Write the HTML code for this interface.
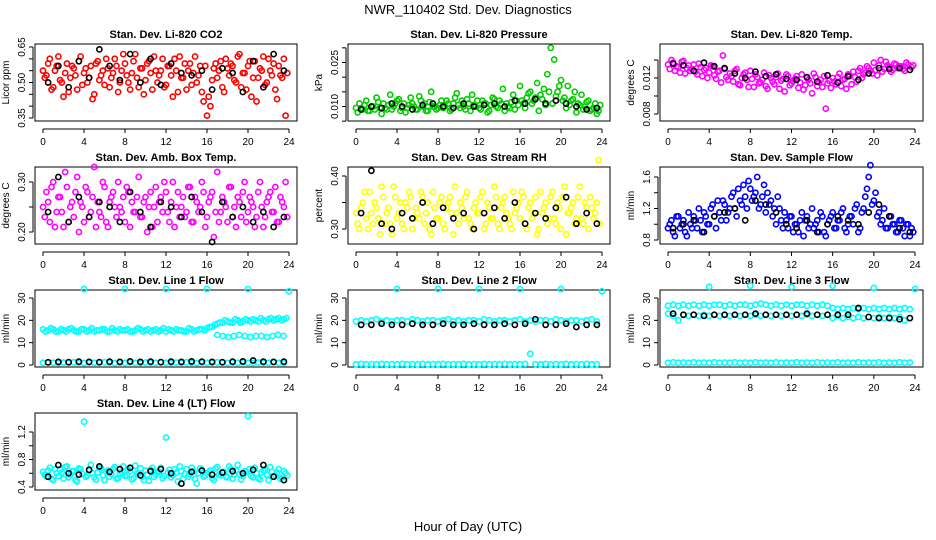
<!DOCTYPE html>
<html><head><meta charset="utf-8">
<style>
html,body{margin:0;padding:0;background:#fff;}
svg{display:block;font-family:"Liberation Sans",sans-serif;}
</style></head>
<body>
<svg id="c" width="936" height="540" viewBox="0 0 936 540" xmlns="http://www.w3.org/2000/svg">
<rect width="936" height="540" fill="#fff"/>
<text x="468" y="14" text-anchor="middle" font-size="13">NWR_110402  Std. Dev. Diagnostics</text>
<text x="468" y="531" text-anchor="middle" font-size="13">Hour of Day (UTC)</text>
</svg>
<script>
const xTicks=[0,4,8,12,16,20,24];
const co2Vals=[.55,.53,.60,.48,.57,.51,.44,.58,.52,.56,.47,.61,.54,.50,.57,.45,.59,.53,.49,.56,.52,.60,.46,.55,.58,.50,.54,.62,.48,.56,.51,.59,.47,.55,.53,.60,.49,.57,.44,.55,.61,.52,.47,.58,.54,.50,.57,.42,.36,.40,.56,.52,.59,.46,.56,.58,.51,.61,.48,.54,.57,.44,.59,.52,.55,.49,.60,.53,.47,.57,.52,.36];
const co2Vals2=[.52,.58,.47,.55,.61,.50,.54,.46,.57,.53,.59,.49,.56,.52,.43,.58,.51,.55,.60,.48,.54,.57,.50,.62,.53,.47,.59,.52,.56,.45,.58,.54,.61,.50,.55,.48,.57,.53,.60,.46,.52,.58,.55,.49,.61,.53,.46,.57,.44,.51,.58,.55,.48,.60,.53,.57,.50,.62,.54,.47,.59,.52,.42,.56,.61,.50,.55,.58,.43,.53,.60,.54];
const co2Black=[.50,.57,.48,.59,.52,.64,.57,.51,.62,.50,.60,.49,.58,.54,.53,.55,.47,.56,.54,.46,.59,.48,.62,.55];
const presVals=[.0095,.011,.009,.012,.0085,.010,.013,.0095,.011,.009,.014,.010,.012,.0085,.011,.0095,.013,.010,.009,.012,.011,.0085,.015,.010,.0095,.012,.010,.011,.009,.013,.0105,.012,.009,.011,.014,.010,.0095,.012,.011,.0085,.013,.010,.012,.016,.011,.0095,.014,.012,.017,.011,.013,.015,.012,.018,.014,.016,.021,.030,.026,.015,.019,.013,.017,.012,.015,.011,.014,.010,.012,.009,.011,.0085];
const presVals2=[.008,.0095,.0105,.0085,.010,.009,.0115,.0075,.0095,.0105,.009,.011,.0125,.0095,.008,.0105,.011,.009,.0135,.010,.0085,.0115,.010,.009,.0105,.0095,.012,.0085,.011,.0145,.0095,.010,.0125,.0085,.0105,.012,.009,.011,.008,.0105,.0125,.0095,.011,.0085,.010,.0115,.009,.0105,.012,.0095,.0145,.011,.013,.0085,.0125,.0105,.015,.011,.0135,.017,.012,.0095,.0105,.0125,.008,.0105,.009,.0115,.0085,.0095,.0075,.0105];
const presBlack=[.009,.010,.0095,.011,.010,.009,.0105,.011,.010,.0095,.011,.010,.0105,.011,.010,.012,.011,.0125,.011,.012,.011,.010,.009,.0095];
const tempVals=[.0135,.0140,.0128,.0132,.0138,.0125,.0134,.0130,.0127,.0136,.0122,.0131,.0126,.0133,.0119,.0128,.0145,.0121,.0125,.0116,.0130,.0112,.0124,.0118,.0128,.0110,.0121,.0115,.0126,.0108,.0120,.0113,.0125,.0117,.0105,.0122,.0114,.0119,.0109,.0124,.0112,.0118,.0103,.0121,.0115,.0110,.0086,.0117,.0120,.0113,.0125,.0118,.0108,.0122,.0127,.0116,.0131,.0124,.0133,.0128,.0137,.0123,.0140,.0130,.0134,.0127,.0136,.0131,.0133,.0128,.0135,.0132];
const tempVals2=[.0130,.0137,.0133,.0126,.0139,.0131,.0128,.0135,.0124,.0132,.0129,.0120,.0134,.0123,.0127,.0115,.0130,.0118,.0122,.0128,.0113,.0120,.0126,.0110,.0119,.0124,.0114,.0118,.0111,.0123,.0116,.0121,.0108,.0119,.0124,.0112,.0117,.0122,.0115,.0107,.0120,.0114,.0125,.0111,.0118,.0122,.0114,.0109,.0116,.0121,.0111,.0119,.0124,.0113,.0121,.0128,.0120,.0126,.0131,.0125,.0129,.0134,.0127,.0138,.0132,.0129,.0135,.0133,.0130,.0137,.0129,.0134];
const tempBlack=[.0136,.0134,.0128,.0137,.0133,.0131,.0125,.0120,.0127,.0122,.0124,.0119,.0118,.0121,.0116,.0123,.0115,.0122,.0118,.0125,.0131,.0130,.0131,.0129];
const boxVals=[.25,.28,.22,.30,.24,.27,.21,.29,.25,.23,.31,.26,.22,.28,.24,.33,.26,.23,.29,.21,.27,.25,.30,.24,.22,.28,.26,.24,.31,.23,.27,.25,.21,.29,.26,.24,.28,.22,.30,.25,.23,.27,.24,.29,.22,.26,.25,.28,.23,.27,.19,.32,.24,.26,.22,.29,.25,.27,.23,.30,.24,.26,.21,.28,.25,.23,.27,.24,.29,.22,.26,.30];
const boxVals2=[.23,.26,.29,.21,.27,.24,.32,.22,.26,.28,.20,.25,.29,.23,.27,.21,.24,.30,.22,.26,.28,.23,.25,.27,.29,.21,.24,.27,.23,.26,.20,.28,.25,.22,.27,.30,.24,.26,.21,.28,.25,.23,.29,.22,.27,.24,.30,.21,.26,.28,.24,.22,.27,.25,.29,.23,.21,.26,.28,.22,.27,.25,.23,.30,.21,.26,.28,.24,.22,.27,.25,.23];
const boxBlack=[.24,.31,.22,.27,.23,.26,.25,.22,.28,.24,.21,.26,.25,.23,.27,.24,.18,.26,.23,.25,.22,.24,.21,.23];
const rhVals=[.33,.30,.35,.32,.37,.31,.34,.29,.36,.33,.31,.38,.32,.35,.30,.34,.36,.32,.33,.37,.31,.35,.29,.34,.32,.36,.30,.35,.33,.38,.31,.34,.36,.32,.30,.35,.33,.37,.31,.34,.32,.36,.30,.35,.33,.31,.37,.34,.32,.36,.30,.35,.33,.29,.37,.34,.31,.36,.32,.35,.30,.38,.33,.34,.31,.36,.32,.35,.30,.34,.33,.43];
const rhVals2=[.31,.34,.37,.30,.33,.35,.32,.38,.31,.34,.29,.36,.33,.31,.35,.37,.30,.34,.32,.36,.33,.30,.37,.32,.35,.31,.34,.36,.29,.33,.35,.32,.37,.31,.34,.33,.36,.30,.35,.32,.38,.31,.34,.36,.32,.30,.33,.35,.37,.31,.34,.32,.36,.30,.33,.35,.32,.37,.31,.34,.36,.29,.33,.35,.32,.38,.31,.34,.36,.32,.35,.31];
const rhBlack=[.33,.41,.31,.30,.33,.32,.35,.31,.34,.32,.33,.30,.33,.34,.32,.35,.31,.33,.32,.34,.36,.31,.33,.31];
const sfVals=[.95,1.05,.85,1.10,1.00,.90,1.15,.95,1.05,1.20,.90,1.10,1.00,1.25,.95,1.15,1.30,1.05,1.20,1.40,1.10,1.30,1.50,1.20,1.45,1.35,1.60,1.25,1.50,1.40,1.30,1.20,1.35,1.05,1.15,.95,1.10,1.00,.90,1.15,1.05,.95,1.20,1.00,.90,1.10,.85,1.05,1.15,.95,1.05,1.20,.90,1.10,1.00,1.25,.95,1.20,1.45,1.75,1.30,1.10,1.00,1.20,.95,1.10,1.00,.90,1.05,.85,1.00,.95];
const sfVals2=[1.00,.90,1.10,.95,1.05,.85,1.00,1.10,.95,1.05,1.15,1.00,1.20,1.10,1.30,1.05,1.25,1.15,1.35,1.20,1.45,1.25,1.35,1.55,1.30,1.40,1.20,1.35,1.15,1.25,1.10,1.00,1.20,.95,1.05,1.10,.90,1.00,1.05,.85,1.10,1.00,.95,1.05,1.15,.90,1.00,1.10,.95,1.05,1.15,.95,1.00,1.10,1.20,.90,1.15,1.35,1.60,1.25,1.40,1.15,1.05,.95,1.10,1.00,.90,1.05,.95,1.00,.85,.90];
const sfBlack=[.95,1.00,1.05,.90,1.10,1.15,1.20,1.05,1.30,1.25,1.15,1.00,.95,1.05,.90,1.00,1.10,1.05,1.00,1.15,1.25,1.10,.95,.90];
const l4Vals=[.62,.55,.68,.50,.60,.65,.52,.70,.58,.63,.48,.66,1.35,.57,.72,.54,.61,.67,.50,.64,.59,.69,.53,.62,.56,.66,.51,.71,.60,.55,.64,.49,.68,.58,.62,.53,1.12,.65,.57,.61,.70,.52,.66,.59,.63,.45,.67,.55,.60,.64,.50,.69,.57,.62,.54,.66,.58,.72,.51,.63,1.43,.56,.68,.53,.61,.65,.50,.62,.57,.66,.54,.60];
const l4Vals2=[.58,.64,.52,.66,.56,.61,.69,.54,.63,.50,.67,.59,.55,.64,.60,.51,.68,.57,.62,.55,.66,.52,.60,.70,.57,.63,.53,.60,.67,.50,.58,.65,.55,.62,.68,.56,.61,.54,.66,.48,.63,.59,.55,.68,.52,.60,.64,.57,.62,.53,.67,.58,.61,.55,.70,.52,.64,.59,.56,.62,.66,.54,.60,.51,.64,.58,.69,.55,.61,.52,.63,.57];
const l4Black=[.55,.72,.60,.58,.65,.70,.62,.66,.68,.57,.63,.66,.60,.45,.62,.64,.58,.61,.63,.60,.65,.72,.55,.50];
const l1Upper=[16,15.5,16,15,15.5,16,15.5,15,16,15.5,15,15.5,16,15,15.5,16,15.5,15,15.5,16,15.5,15,16,15.5,15,15.5,16,15.5,15,16,15.5,16,16.5,17,18.5,19,19.5,19,20,19.5,20,20.5,19.5,20,20.5,20,21,20.5];
const l1Upper2=[15,16.5,15,16,15,16.5,15,16,15,16.5,15.5,16,15,16.5,15,15.5,16,15,16.5,15,16,15.5,15,16.5,16,15,15.5,15,16.5,15,16,15.5,17,18,19,20,19,20.5,19,20.5,19.5,20,21,19.5,21,20.5,20,21];
const l1Split=[13.5,13,12.5,13,13.5,13,12.5,13,13,12.5,13,13.5,13];
const l1Low=[1,1.2,1,0.9,1.1,1,1.2,1,0.9,1.1,1,1,1.2,1,0.9,1.1,1,1.2,1,0.9,1.1,1,1,1.2,1,0.9,1.1,1,1.2,1,0.9,1.1,1,1,1.2,1,0.9,1.1,1,1.2,1,0.9,1.1,1,1,1.2,1,0.9];
const l1Black=[1.2,1.4,1.3,1.5,1.4,1.3,1.5,1.4,1.6,1.4,1.5,1.3,1.5,1.4,1.6,1.5,1.4,1.3,1.5,1.6,2.0,1.5,1.4,1.5];
const l2Upper=[19.5,20,19.5,20,20.5,19.5,20,19.5,20,20,19.5,20.5,20,19.5,20,20,19.5,20,20.5,19.5,20,19.5,20,20,19.5,20.5,20,19.5,20,20,19.5,20,20.5,19.5,20,19.5,20,20,19.5,20.5,20,19.5,20,20,19.5,20,20.5,19.5];
const l2Low=[0.3,0.5,0.3,0.4,0.3,0.5,0.3,0.4,0.3,0.5,0.3,0.4,0.3,0.5,0.3,0.4,0.3,0.5,0.3,0.4,0.3,0.5,0.3,0.4,0.3,0.5,0.3,0.4,0.3,0.5,0.3,0.4,0.3,0.5,5,0.4,0.3,0.5,0.3,0.4,0.3,0.5,0.3,0.4,0.3,0.5,0.3,0.4];
const l2Black=[18,18,18.5,18,18,18.5,18,18,18.5,18,18,18.5,18,18,18.5,18,18.5,20.5,18,18,18.5,17,18,18];
const l3Upper=[26.5,27,26.5,27,26.5,27,26.5,27,26.5,27,27,26.5,27,26.5,27,27,26.5,27,27.5,27,26.5,27,26.5,27,26.5,27,27,26.5,27,26.5,27,26.5,25.5,25,25.5,25,25.5,25,25.5,25,25.5,25,25.5,25,25.5,25,25.5,25];
const l3Mid=[23,22,20,22.5,22,22.5,22,22.5,22,22.5,22,22.5,22,22.5,22,22.5,22,22.5,22,22.5,22,22.5,22,22.5,22,22.5,22,22.5,22,22.5,22,22.5,21,22,21,21.5,21,21.5,21,21.5,21,21.5,21,21.5,21,21.5,20,21];
const l3Low=[1,1.2,1,1.1,1,1.2,1,1.1,1,1.2,1,1.1,1,1.2,1,1.1,1,1.2,1,1.1,1,1.2,1,1.1,1,1.2,1,1.1,1,1.2,1,1.1,1,1.2,1,1.1,1,1.2,1,1.1,1,1.2,1,1.1,1,1.2,1,1.1];
const l3Black=[23,22.5,22.5,22,22.5,22.5,22.5,22.5,23,22.5,22.5,22.5,22.5,23,22.5,22.5,22.5,22.5,25.5,21.5,21,21,20.5,21];
const outHours=[4,8,12,16,20,24];
const l1Out=[34,34,34,34,34,33];
const l2Out=[34,34,34,34,34,33];
const l3Out=[35,35.5,35,35.5,34.5,34];

const NS="http://www.w3.org/2000/svg";
const svg=document.getElementById('c');
const cols=[[35,297],[348,610],[660,923]];
const rows=[[44,121],[167,244],[290,367],[413,490]];
function mk(tag,attrs,parent){const e=document.createElementNS(NS,tag);for(const k in attrs)e.setAttribute(k,attrs[k]);(parent||svg).appendChild(e);return e;}
function hoursFor(n){const h=[];for(let i=0;i<n;i++)h.push(i*24/n);return h;}

function panel(ci,ri,cfg){
  const [L,R]=cols[ci],[T,B]=rows[ri];
  const g=mk('g',{});
  
  
  const xs=h=>L+8+h*(R-L-16)/24;
  const ys=v=>cfg.y1+(v-cfg.v1)*(cfg.y2-cfg.y1)/(cfg.v2-cfg.v1);
  const t=mk('text',{x:(L+R)/2,y:T-6,'text-anchor':'middle','font-size':11,'font-weight':'bold'},g);
  t.textContent=cfg.title;
  
  
  const ax=mk('g',{stroke:'#000','stroke-width':1},g);
  
  
  mk('line',{x1:xs(0),x2:xs(24),y1:B+8,y2:B+8},ax);
  xTicks.forEach(h=>{
    mk('line',{x1:xs(h),x2:xs(h),y1:B+8,y2:B+12},ax);
    const tl=mk('text',{x:xs(h),y:B+24,'text-anchor':'middle','font-size':10,stroke:'none'},ax);
    tl.textContent=h;
  });
  const ay=mk('g',{stroke:'#000','stroke-width':1},g);
  
  
  const yt=cfg.ticks;
  mk('line',{x1:L-2,x2:L-2,y1:ys(yt[0]),y2:ys(yt[yt.length-1])},ay);
  yt.forEach(v=>{mk('line',{x1:L-6,x2:L-2,y1:ys(v),y2:ys(v)},ay);});
  cfg.labels.forEach(v=>{
    const yy=ys(v);
    const tl=mk('text',{x:L-10,y:yy,'text-anchor':'middle','font-size':10,stroke:'none',transform:`rotate(-90 ${L-10} ${yy})`},ay);
    tl.textContent=cfg.fmt(v);
  });
  const yl=mk('text',{x:L-26,y:(T+B)/2,'text-anchor':'middle','font-size':10,transform:`rotate(-90 ${L-26} ${(T+B)/2})`},g);
  yl.textContent=cfg.ylab;
  
  
  mk('rect',{x:L,y:T,width:R-L,height:B-T,fill:'none',stroke:'#000','stroke-width':1},g);
  cfg.series.forEach(s=>{
    const sg=mk('g',{fill:'none',stroke:s.color,'stroke-width':1.6},g);
    
    
    const hrs=s.hours||(s.offset!=null?s.vals.map((_,i)=>s.offset+i*24/s.vals.length):hoursFor(s.vals.length));
    s.vals.forEach((v,i)=>{
      const c=mk('circle',{cx:xs(hrs[i]),cy:ys(v),r:2.6},sg);
      
      
    });
  });
}
const f2=v=>v.toFixed(2),f3=v=>v.toFixed(3),f1=v=>v.toFixed(1),f0=v=>String(v);
const red='#ff0000',grn='#00cc00',mag='#ff00ff',yel='#ffff00',blu='#0000ff',cy='#00ffff',blk='#000';
const h17=l1Split.map((_,i)=>17+i*7/l1Split.length);
const o2=1/6;
panel(0,0,{name:'co2',title:'Stan. Dev. Li-820 CO2',ylab:'Licor ppm',v1:.35,y1:118,v2:.65,y2:47,ticks:[.35,.40,.45,.50,.55,.60,.65],labels:[.35,.50,.65],fmt:f2,
 series:[{name:'co2-series',color:red,vals:co2Vals},{name:'co2-series-b',color:red,vals:co2Vals2,offset:o2},{name:'co2-black-series',color:blk,vals:co2Black,offset:0.5}]});
panel(1,0,{name:'pressure',title:'Stan. Dev. Li-820 Pressure',ylab:'kPa',v1:.010,y1:106.5,v2:.025,y2:62.5,ticks:[.005,.010,.015,.020,.025,.030],labels:[.010,.025],fmt:f3,
 series:[{name:'pressure-series',color:grn,vals:presVals},{name:'pressure-series-b',color:grn,vals:presVals2,offset:o2},{name:'pressure-black-series',color:blk,vals:presBlack,offset:0.5}]});
panel(2,0,{name:'temp',title:'Stan. Dev. Li-820 Temp.',ylab:'degrees C',v1:.008,y1:114,v2:.012,y2:78,ticks:[.008,.010,.012,.014],labels:[.008,.012],fmt:f3,
 series:[{name:'temp-series',color:mag,vals:tempVals},{name:'temp-series-b',color:mag,vals:tempVals2,offset:o2},{name:'temp-black-series',color:blk,vals:tempBlack,offset:0.5}]});
panel(0,1,{name:'box-temp',title:'Stan. Dev. Amb. Box Temp.',ylab:'degrees C',v1:.20,y1:232,v2:.30,y2:182,ticks:[.20,.25,.30],labels:[.20,.30],fmt:f2,
 series:[{name:'box-temp-series',color:mag,vals:boxVals},{name:'box-temp-series-b',color:mag,vals:boxVals2,offset:o2},{name:'box-temp-black-series',color:blk,vals:boxBlack,offset:0.5}]});
panel(1,1,{name:'rh',title:'Stan. Dev. Gas Stream RH',ylab:'percent',v1:.30,y1:229,v2:.40,y2:176,ticks:[.30,.35,.40],labels:[.30,.40],fmt:f2,
 series:[{name:'rh-series',color:yel,vals:rhVals},{name:'rh-series-b',color:yel,vals:rhVals2,offset:o2},{name:'rh-black-series',color:blk,vals:rhBlack,offset:0.5}]});
panel(2,1,{name:'sample-flow',title:'Stan. Dev. Sample Flow',ylab:'ml/min',v1:.8,y1:240,v2:1.6,y2:177,ticks:[.8,1.0,1.2,1.4,1.6],labels:[.8,1.2,1.6],fmt:f1,
 series:[{name:'sample-flow-series',color:blu,vals:sfVals},{name:'sample-flow-series-b',color:blu,vals:sfVals2,offset:o2},{name:'sample-flow-black-series',color:blk,vals:sfBlack,offset:0.5}]});
panel(0,2,{name:'line1',title:'Stan. Dev. Line 1 Flow',ylab:'ml/min',v1:0,y1:365,v2:30,y2:298,ticks:[0,10,20,30],labels:[0,10,20,30],fmt:f0,
 series:[{name:'line1-upper',color:cy,vals:l1Upper},{name:'line1-upper-b',color:cy,vals:l1Upper2,offset:0.25},{name:'line1-split',color:cy,vals:l1Split,hours:h17},{name:'line1-low',color:cy,vals:l1Low},{name:'line1-outliers',color:cy,vals:l1Out,hours:outHours},{name:'line1-black-series',color:blk,vals:l1Black,offset:0.5}]});
panel(1,2,{name:'line2',title:'Stan. Dev. Line 2 Flow',ylab:'ml/min',v1:0,y1:365,v2:30,y2:298,ticks:[0,10,20,30],labels:[0,10,20,30],fmt:f0,
 series:[{name:'line2-upper',color:cy,vals:l2Upper},{name:'line2-low',color:cy,vals:l2Low},{name:'line2-outliers',color:cy,vals:l2Out,hours:outHours},{name:'line2-black-series',color:blk,vals:l2Black,offset:0.5}]});
panel(2,2,{name:'line3',title:'Stan. Dev. Line 3 Flow',ylab:'ml/min',v1:0,y1:365,v2:30,y2:298,ticks:[0,10,20,30],labels:[0,10,20,30],fmt:f0,
 series:[{name:'line3-upper',color:cy,vals:l3Upper},{name:'line3-mid',color:cy,vals:l3Mid},{name:'line3-low',color:cy,vals:l3Low},{name:'line3-outliers',color:cy,vals:l3Out,hours:outHours},{name:'line3-black-series',color:blk,vals:l3Black,offset:0.5}]});
panel(0,3,{name:'line4',title:'Stan. Dev. Line 4 (LT) Flow',ylab:'ml/min',v1:.4,y1:487,v2:1.2,y2:432,ticks:[.4,.6,.8,1.0,1.2],labels:[.4,.8,1.2],fmt:f1,
 series:[{name:'line4-series',color:cy,vals:l4Vals},{name:'line4-series-b',color:cy,vals:l4Vals2,offset:o2},{name:'line4-black-series',color:blk,vals:l4Black,offset:0.5}]});
</script>
</body></html>
